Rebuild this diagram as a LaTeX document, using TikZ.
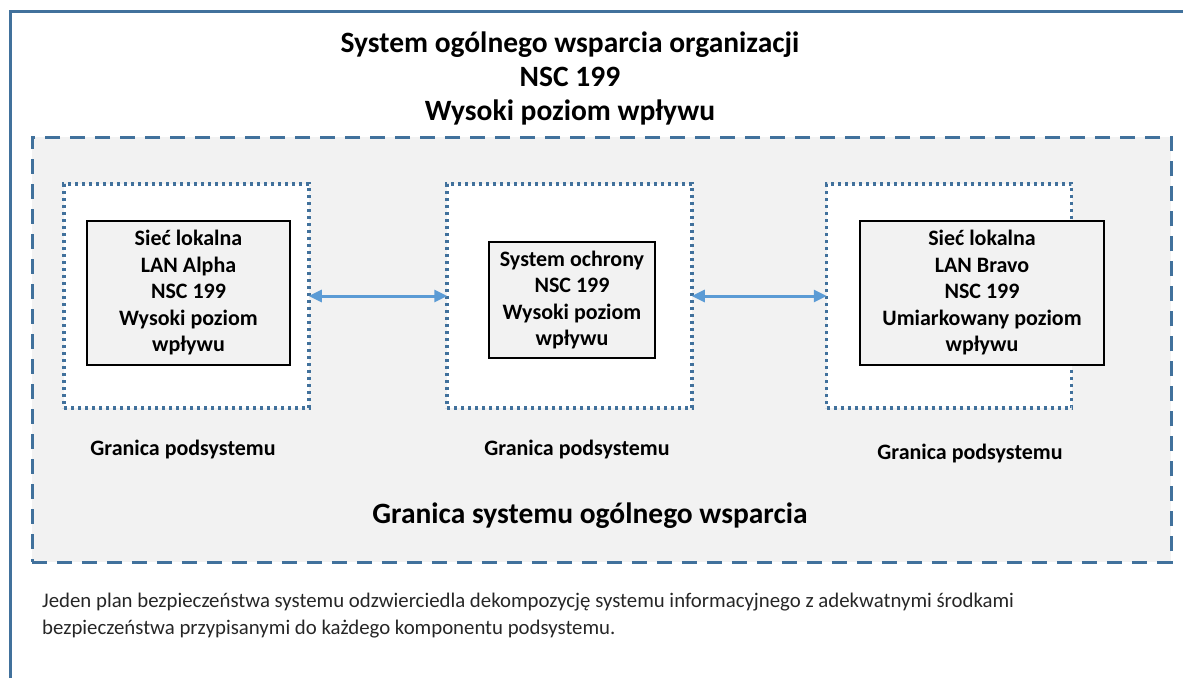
\documentclass[tikz,border=0pt]{standalone}
\usepackage{fontspec}
\setmainfont{Carlito}
\usetikzlibrary{positioning,arrows.meta}
\definecolor{frameblue}{RGB}{65,113,156}
\definecolor{arrowblue}{RGB}{91,155,213}
\definecolor{gray95}{RGB}{242,242,242}
\definecolor{textgray}{RGB}{38,38,38}

\begin{document}
\begin{tikzpicture}
[x=1pt,y=-1pt,align=center,inner sep=0pt,font=\bfseries\fontsize{22}{26.5}\selectfont]
\tikzstyle{outer}=[draw=frameblue,line width=3pt,dash pattern=on 15pt off 10pt,fill=gray95,minimum width=1139pt,minimum height=425pt]
\tikzstyle{subsys}=[draw=frameblue,line width=3.5pt,dash pattern=on 3pt off 4pt,fill=white,minimum width=245pt,minimum height=224pt]
\tikzstyle{plain}=[draw,line width=1.8pt,fill=gray95]
\tikzstyle{link}=[arrowblue,line width=3pt,shorten <=-2pt,shorten >=-2pt,{Triangle[length=13pt,width=12pt]}-{Triangle[length=13pt,width=12pt]}]

\useasboundingbox (0,0) rectangle (1183,678);
\draw [frameblue,line width=3pt] (10,678) -- (10,11) -- (1183,11);

\draw node at (570,78) [font=\bfseries\fontsize{29.5}{34}\selectfont] (title) {System ogólnego wsparcia organizacji\\NSC 199\\Wysoki poziom wpływu};

\draw node [outer] at (601.5,349.5) (gss) {};
\draw node [subsys] at (186.5,296) (sysA) {};
\draw node [subsys] at (569.5,296) (sysO) {};
\draw node [subsys] at (949,296) (sysB) {};

\draw node [plain,minimum width=203pt,minimum height=144pt] at (188.5,293) (lanA) {Sieć lokalna\\LAN Alpha\\NSC 199\\Wysoki poziom\\wpływu};
\draw node [plain,minimum width=166pt,minimum height=116pt] at (572,300) (ochr) {System ochrony\\NSC 199\\Wysoki poziom\\wpływu};
\draw node [plain,minimum width=244pt,minimum height=144pt] at (982,293) (lanB) {Sieć lokalna\\LAN Bravo\\NSC 199\\Umiarkowany poziom\\wpływu};

\draw [link] (sysA) -- (sysO);
\draw [link] (sysO) -- (sysB);

\draw node at (183,450) (granA) {Granica podsystemu};
\draw node at (577,450) (granO) {Granica podsystemu};
\draw node at (970,454) (granB) {Granica podsystemu};
\draw node at (590,516) [font=\bfseries\fontsize{29.5}{34}\selectfont] (granG) {Granica systemu ogólnego wsparcia};

\draw node [anchor=west,align=left,text=textgray,font=\fontsize{20.8}{27}\selectfont] at (42,616) (note) {Jeden plan bezpieczeństwa systemu odzwierciedla dekompozycję systemu informacyjnego z adekwatnymi środkami\\bezpieczeństwa przypisanymi do każdego komponentu podsystemu.};

\end{tikzpicture}
\end{document}
